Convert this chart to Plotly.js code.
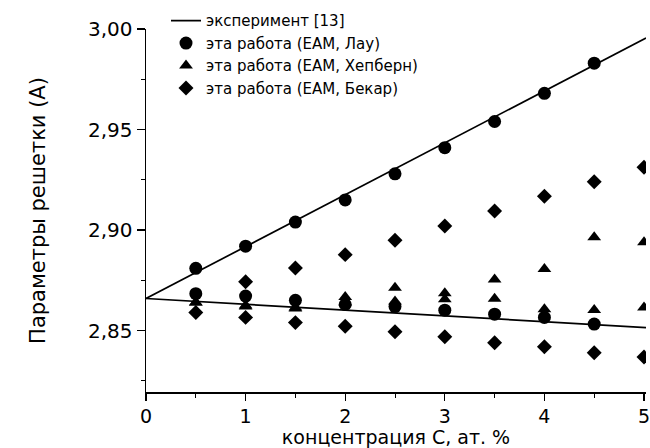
<!DOCTYPE html>
<html>
<head>
<meta charset="utf-8">
<script src="https://cdn.plot.ly/plotly-3.0.1.min.js"></script>
<style>html,body{margin:0;padding:0;background:#fff;}#chart{width:650px;height:448px;}</style>
</head>
<body>
<div id="chart"></div>
<script>
// Experiment [13] lines
const expX = [0, 5.02];
const expUpperY = [2.866, 2.9955];
const expLowerY = [2.866, 2.8515];

// Lau (EAM) - two branches
const lauUpperX = [0.5, 1, 1.5, 2, 2.5, 3, 3.5, 4, 4.5];
const lauUpperY = [2.881, 2.892, 2.904, 2.915, 2.928, 2.941, 2.954, 2.968, 2.983];
const lauLowerX = [0.5, 1, 1.5, 2, 2.5, 3, 3.5, 4, 4.5];
const lauLowerY = [2.8684, 2.8672, 2.8651, 2.863, 2.862, 2.8602, 2.8582, 2.8566, 2.8533];

// Hepburn (EAM) - two branches
const hepUpperX = [0.5, 1, 1.5, 2, 2.5, 3, 3.5, 4, 4.5, 5];
const hepUpperY = [2.864, 2.8625, 2.8615, 2.8668, 2.8713, 2.8686, 2.8755, 2.8807, 2.8965, 2.894];
const hepLowerX = [0.5, 1, 1.5, 2, 2.5, 3, 3.5, 4, 4.5, 5];
const hepLowerY = [2.864, 2.862, 2.861, 2.864, 2.8645, 2.8656, 2.8659, 2.8607, 2.8603, 2.8615];

// Bekar (EAM) - two branches
const bekUpperX = [1, 1.5, 2, 2.5, 3, 3.5, 4, 4.5, 5];
const bekUpperY = [2.8743, 2.8812, 2.8878, 2.895, 2.902, 2.9095, 2.9168, 2.924, 2.9313];
const bekLowerX = [0.5, 1, 1.5, 2, 2.5, 3, 3.5, 4, 4.5, 5];
const bekLowerY = [2.859, 2.8566, 2.854, 2.8522, 2.8495, 2.847, 2.844, 2.842, 2.839, 2.8369];

const names = ['эксперимент [13]', 'эта работа (EAM, Лау)', 'эта работа (EAM, Хепберн)', 'эта работа (EAM, Бекар)'];

const FONT = 'DejaVu Sans, Arial, sans-serif';
const lineStyle = {color: '#000', width: 1.7};
const circ = {symbol: 'circle', size: 13, color: '#000'};
const tri = {symbol: 'triangle-up', size: 12, color: '#000'};
const dia = {symbol: 'diamond', size: 11.5, color: '#000'};
const traces = [
  {x: expX, y: expUpperY, mode: 'lines', line: lineStyle, name: names[0], legendgroup: 'e'},
  {x: expX, y: expLowerY, mode: 'lines', line: lineStyle, name: names[0], legendgroup: 'e', showlegend: false},
  {x: lauUpperX, y: lauUpperY, mode: 'markers', marker: circ, name: names[1], legendgroup: 'l'},
  {x: lauLowerX, y: lauLowerY, mode: 'markers', marker: circ, name: names[1], legendgroup: 'l', showlegend: false},
  {x: hepUpperX, y: hepUpperY, mode: 'markers', marker: tri, name: names[2], legendgroup: 'h'},
  {x: hepLowerX, y: hepLowerY, mode: 'markers', marker: tri, name: names[2], legendgroup: 'h', showlegend: false},
  {x: bekUpperX, y: bekUpperY, mode: 'markers', marker: dia, name: names[3], legendgroup: 'b'},
  {x: bekLowerX, y: bekLowerY, mode: 'markers', marker: dia, name: names[3], legendgroup: 'b', showlegend: false}
];

const layout = {
  width: 650, height: 448,
  margin: {l: 146, r: 4, t: 26, b: 56},
  paper_bgcolor: '#fff', plot_bgcolor: '#fff',
  separators: ', ',
  font: {family: FONT, color: '#000'},
  showlegend: true,
  legend: {x: 0.04, y: 1.068, xanchor: 'left', yanchor: 'top', bgcolor: 'rgba(0,0,0,0)',
           font: {size: 15, color: '#000', family: FONT}, tracegroupgap: 0, itemwidth: 30},
  xaxis: {
    range: [0, 5.02], showgrid: false, zeroline: false, showline: true, linecolor: '#000', linewidth: 1.5,
    ticks: 'outside', ticklen: 7, tickwidth: 1.3, tickcolor: '#000', dtick: 1, tick0: 0,
    minor: {ticks: 'outside', ticklen: 4, dtick: 0.5, tickcolor: '#000', tickwidth: 1},
    ticklabeloverflow: 'allow', automargin: false,
    tickfont: {size: 19}, title: {text: 'концентрация С, ат. %', font: {size: 19}, standoff: 1}
  },
  yaxis: {
    range: [2.8195, 3.0], showgrid: false, zeroline: false, showline: true, linecolor: '#000', linewidth: 1.5,
    ticks: 'outside', ticklen: 8, tickwidth: 1.3, tickcolor: '#000', dtick: 0.05, tick0: 2.85, tickformat: '.2f',
    minor: {ticks: 'outside', ticklen: 4, dtick: 0.025, tickcolor: '#000', tickwidth: 1},
    automargin: false,
    tickfont: {size: 20}, title: {text: 'Параметры решетки (A)', font: {size: 21}, standoff: 36}
  }
};

Plotly.newPlot('chart', traces, layout, {displayModeBar: false, staticPlot: true});
</script>
</body>
</html>
